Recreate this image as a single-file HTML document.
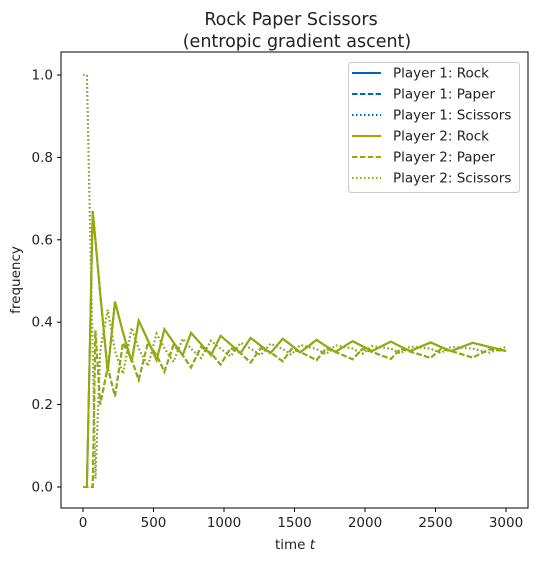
<!DOCTYPE html>
<html><head><meta charset="utf-8"><style>
body{margin:0;background:#fff;}
svg text{font-family:"DejaVu Sans","Liberation Sans",sans-serif;fill:#222;}
</style></head><body>
<svg id="chart" width="536" height="562" viewBox="0 0 536 562" xmlns="http://www.w3.org/2000/svg">
<text x="291" y="25" font-size="17.5" text-anchor="middle">Rock Paper Scissors</text>
<text x="297" y="47" font-size="17.5" text-anchor="middle">(entropic gradient ascent)</text>
<g id="plot"></g>
<rect x="61" y="52" width="467" height="456" fill="none" stroke="#000" stroke-width="1"/>
<g id="ticks"></g>
<text x="295" y="549" font-size="13.5" text-anchor="middle">time <tspan font-style="italic">t</tspan></text>
<text transform="translate(20,280) rotate(-90)" font-size="13.5" text-anchor="middle">frequency</text>
<g id="legend"></g>
</svg>
<script>
const times=[0,28,69,88,122,175,227,284,345,395,460,522,577,642,707,766,837,908,976,1047,1118,1189,1260,1330,1416,1478,1540,1657,1723,1790,1912,1981,2050,2184,2252,2320,2466,2538,2610,2764,2880,3000];
const rock=[0,0,0.67,0.60,0.47,0.28,0.45,0.375,0.304,0.404,0.356,0.308,0.383,0.351,0.32,0.374,0.347,0.32,0.367,0.346,0.325,0.362,0.343,0.325,0.36,0.344,0.327,0.357,0.342,0.328,0.354,0.342,0.33,0.353,0.341,0.33,0.351,0.34,0.33,0.35,0.34,0.33];
const paper=[0,0,0,0.38,0.20,0.29,0.22,0.35,0.31,0.26,0.35,0.32,0.28,0.345,0.32,0.29,0.34,0.325,0.297,0.337,0.325,0.302,0.337,0.327,0.305,0.335,0.328,0.308,0.336,0.328,0.31,0.335,0.328,0.311,0.335,0.329,0.313,0.335,0.33,0.314,0.334,0.33];
const scissors=[1,1,0.33,0.02,0.33,0.43,0.33,0.275,0.386,0.336,0.294,0.372,0.337,0.304,0.36,0.336,0.313,0.355,0.336,0.317,0.35,0.336,0.32,0.348,0.335,0.321,0.345,0.335,0.322,0.344,0.336,0.323,0.342,0.336,0.324,0.341,0.336,0.325,0.34,0.336,0.326,0.34];
const xTicks=[0,500,1000,1500,2000,2500,3000];
const yTicks=[0,0.2,0.4,0.6,0.8,1.0];
const legendLabels=["Player 1: Rock","Player 1: Paper","Player 1: Scissors","Player 2: Rock","Player 2: Paper","Player 2: Scissors"];

const NS="http://www.w3.org/2000/svg";
const xs=t=>83+(t/3000)*423;
const ys=v=>487-v*412;
const BLUE="#0065b8",GREEN="#9aaa00";
const dashes={rock:"",paper:"5.5,2.4",scissors:"1.5,2.5"};
function mk(tag,attrs,parent){const e=document.createElementNS(NS,tag);for(const k in attrs)e.setAttribute(k,attrs[k]);parent.appendChild(e);return e;}
const plot=document.getElementById('plot');
const series=[["rock",rock],["paper",paper],["scissors",scissors]];
[["player1",BLUE],["player2",GREEN]].forEach(([pl,col])=>{
  series.forEach(([nm,vals])=>{
    const d=times.map((t,i)=>(i?"L":"M")+xs(t).toFixed(1)+","+ys(vals[i]).toFixed(1)).join(" ");
    const p=mk('path',{d:d,fill:"none",stroke:col,"stroke-width":2,"stroke-dasharray":dashes[nm]},plot);
    
    
  });
});
const tk=document.getElementById('ticks');
xTicks.forEach(v=>{
  const x=xs(v);
  const l=mk('line',{x1:x,x2:x,y1:508,y2:512,stroke:"#000"},tk);
  
  
  const t=mk('text',{x:x,y:527,"font-size":13.5,"text-anchor":"middle"},tk);t.textContent=v;
  
  
});
yTicks.forEach(v=>{
  const y=ys(v);
  const l=mk('line',{x1:57,x2:61,y1:y,y2:y,stroke:"#000"},tk);
  
  
  const t=mk('text',{x:53,y:y+4.5,"font-size":13.5,"text-anchor":"end"},tk);t.textContent=v.toFixed(1);
  
  
});
const lg=document.getElementById('legend');
const box=mk('rect',{x:348.5,y:62.5,width:171,height:130,rx:3,fill:"#fff","fill-opacity":0.8,stroke:"#ccc"},lg);


const styles=["rock","paper","scissors"];
legendLabels.forEach((lab,i)=>{
  const y=73+i*21, col=i<3?BLUE:GREEN;
  const g=mk('g',{},lg);
  
  
  mk('line',{x1:352,x2:381,y1:y,y2:y,stroke:col,"stroke-width":2,"stroke-dasharray":dashes[styles[i%3]]},g);
  const t=mk('text',{x:393,y:y+4.5,"font-size":13.5},g);t.textContent=lab;
});
</script>
</body></html>
